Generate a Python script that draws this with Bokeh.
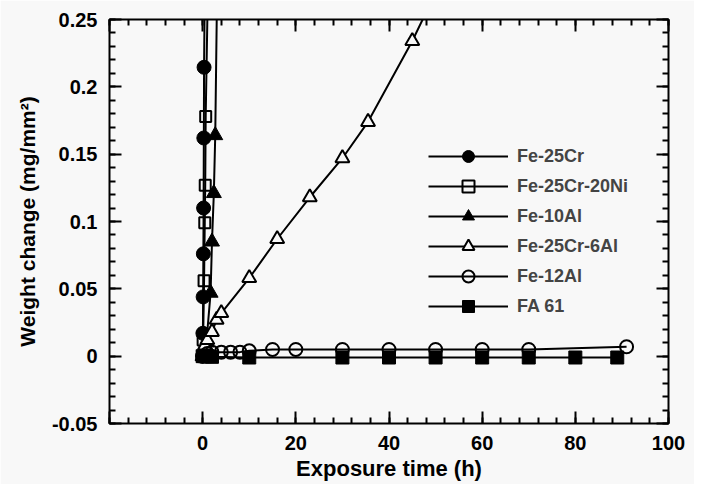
from bokeh.plotting import figure
from bokeh.models import Range1d, FixedTicker, CustomJSTickFormatter, LinearAxis, Legend, LegendItem
from bokeh.embed import file_html
from bokeh.resources import INLINE

# ---- data ----
fe25cr_x = [0, 0.05, 0.1, 0.15, 0.2, 0.25, 0.3, 0.6]
fe25cr_y = [0, 0.017, 0.044, 0.076, 0.110, 0.162, 0.2145, 0.33]

fe25cr20ni_x = [0, 0.1, 0.3, 0.45, 0.55, 0.65, 1.4]
fe25cr20ni_y = [0, 0.012, 0.056, 0.099, 0.127, 0.178, 0.33]

fe10al_x = [0, 0.8, 1.7, 2.0, 2.4, 2.7, 3.2]
fe10al_y = [0, 0.010, 0.047, 0.085, 0.121, 0.164, 0.30]

fe25cr6al_x = [0, 0.5, 1, 2, 3, 4, 10, 16, 23, 30, 35.5, 45, 50]
fe25cr6al_y = [0, 0.008, 0.012, 0.018, 0.027, 0.032, 0.058, 0.087, 0.118, 0.147, 0.174, 0.234, 0.27]

fe12al_x = [0, 1, 2, 4, 6, 8, 10, 15, 20, 30, 40, 50, 60, 70, 91]
fe12al_y = [0, 0.002, 0.003, 0.003, 0.003, 0.003, 0.004, 0.005, 0.005, 0.005, 0.005, 0.005, 0.005, 0.005, 0.007]

fa61_x = [0, 0.5, 1, 2, 10, 30, 40, 50, 60, 70, 80, 89]
fa61_y = [0, 0.0, 0.0, -0.0005, -0.001, -0.001, -0.001, -0.001, -0.001, -0.001, -0.001, -0.001]

x_ticks = [-20, 0, 20, 40, 60, 80, 100]
x_minor = list(range(-20, 101, 4))
y_ticks = [-0.05, 0, 0.05, 0.1, 0.15, 0.2, 0.25]
y_minor = [round(-0.05 + 0.01 * i, 2) for i in range(31)]

BG = "#f8f8f8"
FONT = "Liberation Sans"

p = figure(frame_width=559, frame_height=404,
           x_range=Range1d(-20, 100), y_range=Range1d(-0.05, 0.25),
           output_backend="svg", toolbar_location=None,
           min_border_left=109, min_border_top=19, min_border_right=26, min_border_bottom=61,
           background_fill_color=BG, border_fill_color=BG)
p.grid.visible = False
p.outline_line_color = "black"
p.outline_line_width = 2

xfmt = CustomJSTickFormatter(code="return tick < 0 ? '' : tick.toFixed(0);")
yfmt = CustomJSTickFormatter(code="var s = tick.toFixed(2); s = s.replace(/0+$/, ''); s = s.replace(/\\.$/, ''); if (s == '-0') s = '0'; return s;")
blankfmt = CustomJSTickFormatter(code="return '';")


def style(ax, ticks, minor):
    ax.ticker = FixedTicker(ticks=ticks, minor_ticks=minor)
    ax.axis_line_color = None
    ax.major_tick_in = 12
    ax.major_tick_out = 0
    ax.minor_tick_in = 6
    ax.minor_tick_out = 0
    ax.major_tick_line_width = 2
    ax.minor_tick_line_width = 2
    ax.major_tick_line_color = "black"
    ax.minor_tick_line_color = "black"
    ax.major_label_text_font = FONT
    ax.major_label_text_font_style = "bold"
    ax.major_label_text_font_size = "20px"
    ax.major_label_text_color = "black"
    ax.axis_label_text_font = FONT
    ax.axis_label_text_font_style = "bold"
    ax.axis_label_text_font_size = "21px"
    ax.axis_label_text_color = "black"


xa = p.xaxis[0]
style(xa, x_ticks, x_minor)
xa.formatter = xfmt
xa.major_label_standoff = 12
xa.axis_label = "Exposure time (h)"
xa.axis_label_text_font_size = "22px"
xa.axis_label_standoff = 3

ya = p.yaxis[0]
style(ya, y_ticks, y_minor)
ya.formatter = yfmt
ya.major_label_standoff = 12
ya.axis_label = "Weight change (mg/mm²)"
ya.axis_label_standoff = 10

ra = LinearAxis()
style(ra, y_ticks, y_minor)
ra.formatter = blankfmt
ra.major_label_standoff = 0
p.add_layout(ra, "right")

ta = LinearAxis()
style(ta, x_ticks, x_minor)
ta.formatter = blankfmt
ta.major_label_standoff = 0
p.add_layout(ta, "above")

series = [
    ("Fe-25Cr", fe25cr_x, fe25cr_y, dict(marker="circle", size=14, fill_color="black", line_color="black")),
    ("Fe-25Cr-20Ni", fe25cr20ni_x, fe25cr20ni_y, dict(marker="square", size=11, fill_alpha=0, line_color="black", line_width=2)),
    ("Fe-10Al", fe10al_x, fe10al_y, dict(marker="triangle", size=15, fill_color="black", line_color="black")),
    ("Fe-25Cr-6Al", fe25cr6al_x, fe25cr6al_y, dict(marker="triangle", size=14, fill_color=BG, line_color="black", line_width=2)),
    ("Fe-12Al", fe12al_x, fe12al_y, dict(marker="circle", size=13, fill_alpha=0, line_color="black", line_width=2)),
    ("FA 61", fa61_x, fa61_y, dict(marker="square", size=13, fill_color="black", line_color="black")),
]

items = []
for name, xs, ys, mk in series:
    lr = p.line(xs, ys, line_color="black", line_width=2)
    sr = p.scatter(xs, ys, **mk)
    items.append(LegendItem(label=name, renderers=[lr, sr]))

legend = Legend(items=items, location=(319, 102), glyph_width=80, glyph_height=30,
                label_height=30, spacing=0, padding=0, margin=0,
                border_line_color=None, background_fill_alpha=0,
                label_text_font=FONT, label_text_font_style="bold",
                label_text_font_size="18px", label_standoff=9)
p.add_layout(legend)

open("out.html", "w").write(file_html(p, INLINE))
